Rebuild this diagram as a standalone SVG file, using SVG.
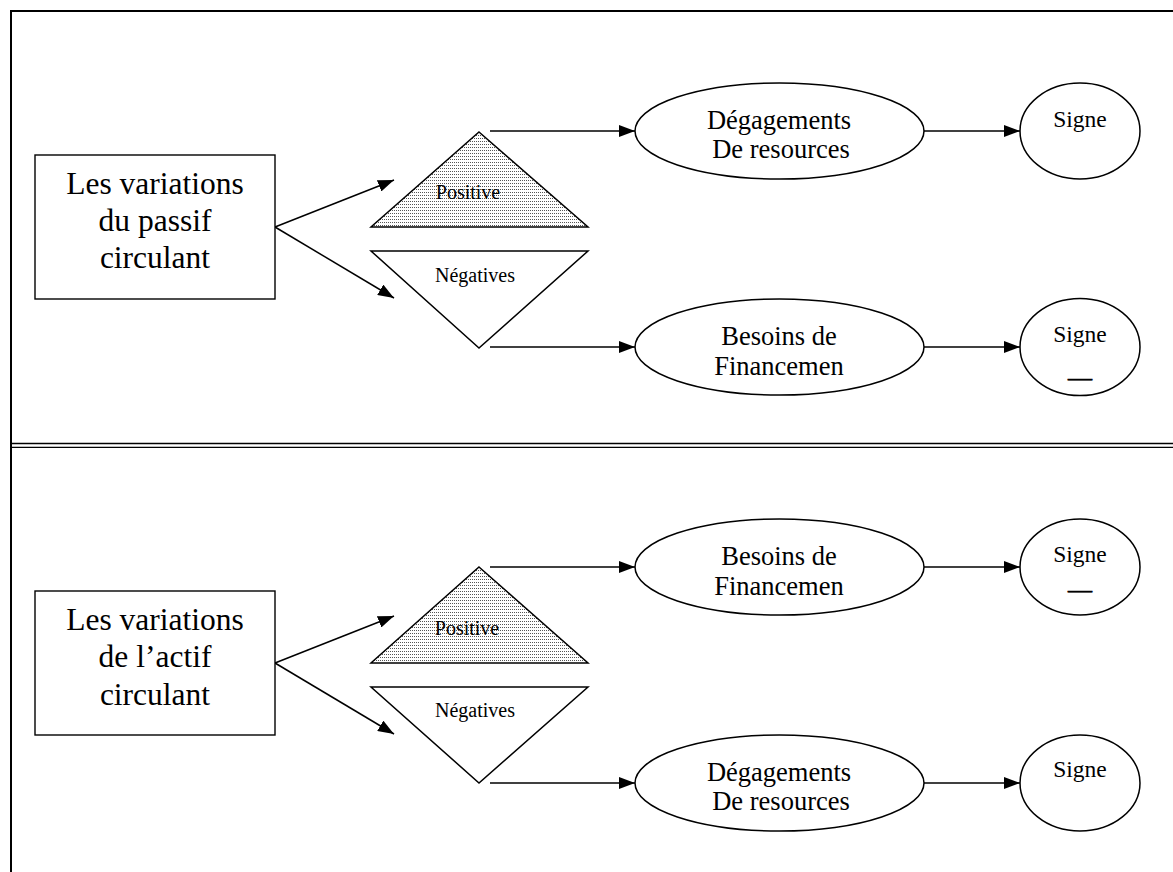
<svg xmlns="http://www.w3.org/2000/svg" width="1173" height="872" viewBox="0 0 1173 872">
  <defs>
    <marker id="arrow" markerUnits="userSpaceOnUse" markerWidth="16" markerHeight="12" refX="16" refY="6" orient="auto">
      <path d="M0,0 L16,6 L0,12 z" fill="#000"/>
    </marker>
    <pattern id="dots" width="2" height="3" patternUnits="userSpaceOnUse">
      <rect width="2" height="3" fill="#fff"/>
      <rect width="1" height="1" fill="#555"/>
    </pattern>
  </defs>
  <style>
    .frame { stroke: #000; stroke-width: 2; fill: none; }
    .thin { stroke: #000; stroke-width: 1.3; fill: none; }
    .box { fill: #fff; stroke: #000; stroke-width: 1.4; }
    .tri { stroke: #000; stroke-width: 1.5; stroke-linejoin: miter; }
    .oval { fill: #fff; stroke: #000; stroke-width: 1.5; }
    .edge { stroke: #000; stroke-width: 1.5; fill: none; marker-end: url(#arrow); }
    text { font-family: "Liberation Serif", "Times New Roman", serif; fill: #000; text-anchor: middle; }
    .big { font-size: 31.5px; }
    .mid { font-size: 26.5px; }
    .sign { font-size: 23.5px; }
    .dash { font-size: 24px; stroke: #000; stroke-width: 0.7; }
    .small { font-size: 20px; }
  </style>

  <!-- page frame with the double rule between the two panels -->
  <g id="frame">
    <line class="frame" x1="11" y1="11" x2="1173" y2="11"/>
    <line class="frame" x1="11" y1="10" x2="11" y2="872"/>
    <line class="thin" x1="11" y1="443.5" x2="1173" y2="443.5"/>
    <line class="thin" x1="11" y1="447.3" x2="1173" y2="447.3"/>
  </g>

  <!-- connectors -->
  <g id="connectors">
    <path class="edge" d="M275,227 L394,180"/>
    <path class="edge" d="M275,227 L394,298"/>
    <path class="edge" d="M490,131 L635,131"/>
    <path class="edge" d="M490,347 L635,347"/>
    <path class="edge" d="M924,131 L1020,131"/>
    <path class="edge" d="M924,347 L1020,347"/>

    <path class="edge" d="M275,663 L394,616"/>
    <path class="edge" d="M275,663 L394,734"/>
    <path class="edge" d="M490,567 L635,567"/>
    <path class="edge" d="M490,783 L635,783"/>
    <path class="edge" d="M924,567 L1020,567"/>
    <path class="edge" d="M924,783 L1020,783"/>
  </g>

  <!-- upper panel -->
  <g id="passif-box">
    <rect class="box" x="35" y="155" width="240" height="144"/>
    <text class="big" x="155" y="194">Les variations</text>
    <text class="big" x="155" y="231">du passif</text>
    <text class="big" x="155" y="268">circulant</text>
  </g>
  <g id="passif-positive">
    <polygon class="tri" points="479,132 588,227 371,227" fill="url(#dots)"/>
    <text class="small" x="468" y="199">Positive</text>
  </g>
  <g id="passif-negatives">
    <polygon class="tri" points="371,251 588,251 479,348" fill="#fff"/>
    <text class="small" x="475" y="282">Négatives</text>
  </g>
  <g id="passif-degagements">
    <ellipse class="oval" cx="779.5" cy="131" rx="144.5" ry="48"/>
    <text class="mid" x="779" y="129">Dégagements</text>
    <text class="mid" x="781" y="158">De resources</text>
  </g>
  <g id="passif-besoins">
    <ellipse class="oval" cx="779.5" cy="347" rx="144.5" ry="48"/>
    <text class="mid" x="779" y="345">Besoins de</text>
    <text class="mid" x="779" y="375">Financemen</text>
  </g>
  <g id="passif-signe-plus">
    <ellipse class="oval" cx="1080" cy="131" rx="60" ry="48"/>
    <text class="sign" x="1080" y="127">Signe</text>
  </g>
  <g id="passif-signe-moins">
    <ellipse class="oval" cx="1080" cy="347" rx="60" ry="48.5"/>
    <text class="sign" x="1080" y="342">Signe</text>
    <text class="dash" x="1080" y="384.5">—</text>
  </g>

  <!-- lower panel -->
  <g id="actif-box">
    <rect class="box" x="35" y="591" width="240" height="144"/>
    <text class="big" x="155" y="630">Les variations</text>
    <text class="big" x="155" y="667">de l’actif</text>
    <text class="big" x="155" y="705">circulant</text>
  </g>
  <g id="actif-positive">
    <polygon class="tri" points="479,567 588,663 371,663" fill="url(#dots)"/>
    <text class="small" x="467" y="635">Positive</text>
  </g>
  <g id="actif-negatives">
    <polygon class="tri" points="371,687 588,687 479,783" fill="#fff"/>
    <text class="small" x="475" y="717">Négatives</text>
  </g>
  <g id="actif-besoins">
    <ellipse class="oval" cx="779.5" cy="567" rx="144.5" ry="48"/>
    <text class="mid" x="779" y="565">Besoins de</text>
    <text class="mid" x="779" y="595">Financemen</text>
  </g>
  <g id="actif-degagements">
    <ellipse class="oval" cx="779.5" cy="783" rx="144.5" ry="48"/>
    <text class="mid" x="779" y="781">Dégagements</text>
    <text class="mid" x="781" y="810">De resources</text>
  </g>
  <g id="actif-signe-moins">
    <ellipse class="oval" cx="1080" cy="567" rx="60" ry="48"/>
    <text class="sign" x="1080" y="562">Signe</text>
    <text class="dash" x="1080" y="596.5">—</text>
  </g>
  <g id="actif-signe-plus">
    <ellipse class="oval" cx="1080" cy="783" rx="60" ry="48"/>
    <text class="sign" x="1080" y="777">Signe</text>
  </g>
</svg>
